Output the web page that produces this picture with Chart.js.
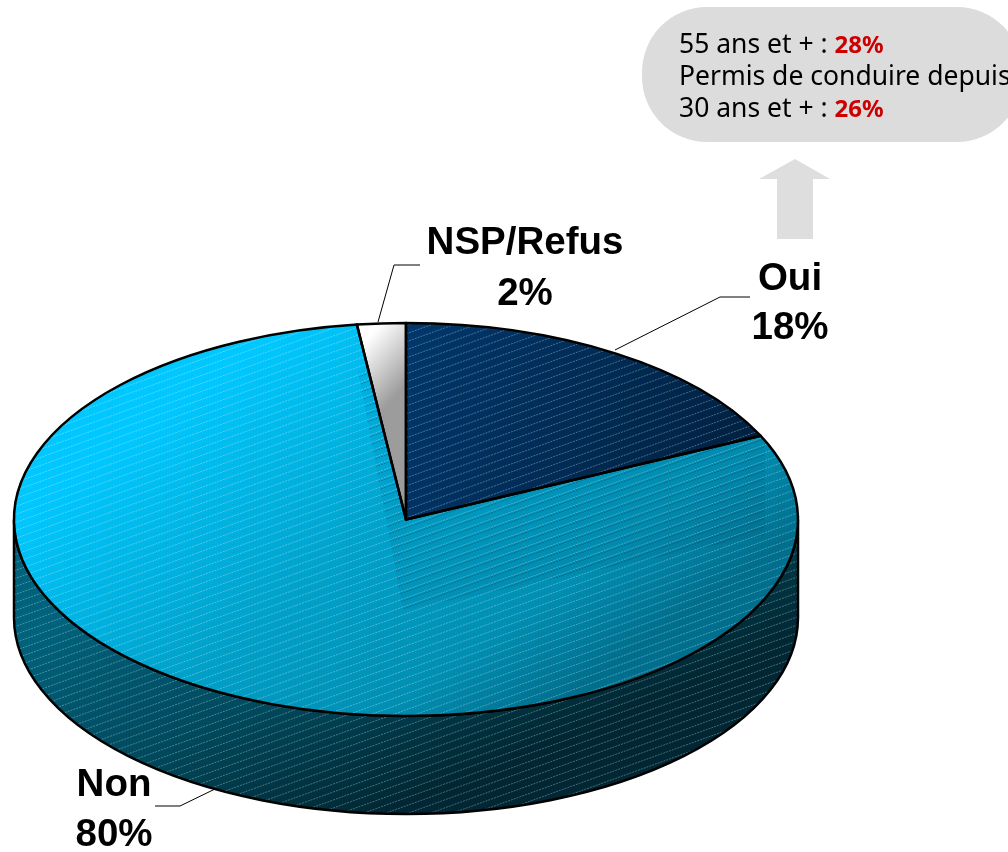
<!DOCTYPE html>
<html lang="fr">
<head>
<meta charset="UTF-8">
<title>Permis de conduire</title>
<script src="https://cdn.jsdelivr.net/npm/chart.js"></script>
<style>
  html, body { margin: 0; padding: 0; background: #fff; overflow: hidden; }
  canvas { display: block; }
</style>
</head>
<body>
<canvas id="pie" width="1008" height="852"></canvas>
<script>
// values
const categories = ['Oui', 'Non', 'NSP/Refus'];
const values = [18, 80, 2];
const noteLines = [
    ['55 ans et + : ', '28%'],
    ['Permis de conduire depuis', ''],
    ['30 ans et + : ', '26%']
];

// the "3D" look: the circle is squashed and a wall added under it
const topY = 519.5, radiusY = 196.5, depth = 98;
const W = 1008, H = 852;

const canvas = document.getElementById('pie');
const ctx = canvas.getContext('2d');

function hatchLines(g, color, shift) {
    g.strokeStyle = color;
    g.lineWidth = 1;
    g.setLineDash([2, 1]);
    for (let b = 0; b < H + W; b += 8) {
        g.beginPath();
        g.moveTo(0, b + shift);
        g.lineTo(W, b + shift - W * 0.36);
        g.stroke();
    }
}

function makeFill(stops, x0, y0, x1, y1, hatch, extra) {
    const c = document.createElement('canvas');
    c.width = W; c.height = H;
    const g = c.getContext('2d');
    const grad = g.createLinearGradient(x0, y0, x1, y1);
    stops.forEach(s => grad.addColorStop(s[0], s[1]));
    g.fillStyle = grad;
    g.fillRect(0, 0, W, H);
    if (hatch) hatchLines(g, 'rgba(255,255,255,0.3)', 0);
    if (extra) extra(g);
    return ctx.createPattern(c, 'no-repeat');
}

const fills = [
    makeFill([[0, '#003669'], [1, '#00203f']], 420, 340, 760, 480, true),
    makeFill([[0, '#00c8ff'], [0.5, '#00a0c8'], [0.8, '#008fb3'], [1, '#006f8e']], 150, 420, 420, 800, true, g => {
        // faint darker shape across the right part of the slice
        g.save();
        g.beginPath();
        g.moveTo(358, 370); g.lineTo(403, 610); g.lineTo(765, 535); g.lineTo(765, 437);
        g.closePath();
        g.clip();
        g.fillStyle = 'rgba(0,60,90,0.05)';
        g.fillRect(0, 0, W, H);
        hatchLines(g, 'rgba(0,40,60,0.3)', 2);
        g.restore();
    }),
    makeFill([[0, '#ffffff'], [1, '#9c9c9c']], 362, 345, 406, 385, false)
];
const wallFill = makeFill([[0, '#00627c'], [0.5, '#004a5e'], [0.8, '#003442'], [1, '#002733']], 300, 520, 420, 800, true);

const pie3d = {
    id: 'pie3d',
    beforeDatasetsDraw(chart) {
        const arc = chart.getDatasetMeta(0).data[0];
        const rx = arc.outerRadius, k = radiusY / rx;
        const m = new DOMMatrix().translate(arc.x, topY).scale(1, k).translate(-arc.x, -arc.y);
        fills.forEach(f => f.setTransform(m.inverse()));

        // wall, only the front half of the ellipse shows
        const c = chart.ctx;
        c.save();
        c.beginPath();
        c.ellipse(arc.x, topY, rx, radiusY, 0, 0, Math.PI);
        c.ellipse(arc.x, topY + depth, rx, radiusY, 0, Math.PI, 0, true);
        c.closePath();
        c.fillStyle = wallFill;
        c.fill();
        c.strokeStyle = '#000';
        c.lineWidth = 2.5;
        c.stroke();
        c.restore();

        c.save();
        c.transform(m.a, m.b, m.c, m.d, m.e, m.f);
    },
    afterDatasetsDraw(chart) {
        const c = chart.ctx;
        c.restore();
        const meta = chart.getDatasetMeta(0);
        c.save();
        c.strokeStyle = '#000';
        c.lineWidth = 2.5;
        c.lineJoin = 'round';
        meta.data.forEach(a => {
            c.beginPath();
            c.moveTo(a.x, topY);
            c.ellipse(a.x, topY, a.outerRadius, radiusY, 0, a.startAngle, a.endAngle);
            c.closePath();
            c.stroke();
        });
        c.restore();
        drawLabels(c);
        drawNote(c);
    }
};

function drawLabels(c) {
    // leader lines and labels
    const leaders = [
        [[615, 350], [720, 297], [750, 297]],
        [[215, 789], [180, 806], [155, 806]],
        [[378, 322], [394, 265], [420, 265]]
    ];
    const textAt = [[790, 279.5, 328.5], [114, 785.5, 835.5], [525, 243.5, 294.5]];
    c.save();
    c.strokeStyle = '#000';
    c.lineWidth = 1;
    leaders.forEach(l => {
        c.beginPath();
        l.forEach((p, i) => i ? c.lineTo(p[0], p[1]) : c.moveTo(p[0], p[1]));
        c.stroke();
    });
    c.fillStyle = '#000';
    c.font = 'bold 38.5px "Liberation Sans"';
    c.textAlign = 'center';
    c.textBaseline = 'middle';
    categories.forEach((name, i) => {
        c.fillText(name, textAt[i][0], textAt[i][1]);
        c.fillText(values[i] + '%', textAt[i][0], textAt[i][2]);
    });
    c.restore();
}

function drawNote(c) {
    c.save();
    c.fillStyle = '#dcdcdc';
    c.beginPath();
    c.roundRect(642, 7, 380, 135, 65);
    c.fill();
    // arrow
    c.fillStyle = '#dedede';
    c.beginPath();
    c.moveTo(795, 159); c.lineTo(830, 179); c.lineTo(813, 179); c.lineTo(813, 239);
    c.lineTo(777, 239); c.lineTo(777, 179); c.lineTo(759, 179);
    c.closePath();
    c.fill();
    c.textBaseline = 'alphabetic';
    noteLines.forEach((line, i) => {
        const y = 53 + i * 32;
        c.font = '26.5px "Noto Sans"';
        c.fillStyle = '#000';
        c.fillText(line[0], 679, y);
        const w = c.measureText(line[0]).width;
        c.font = 'bold 24px "Noto Sans"';
        c.fillStyle = '#cc0000';
        c.fillText(line[1], 679 + w, y);
    });
    c.restore();
}

new Chart(ctx, {
    type: 'pie',
    data: {
        labels: categories,
        datasets: [{ data: values, backgroundColor: fills, borderWidth: 0 }]
    },
    options: {
        responsive: false,
        animation: false,
        rotation: 0,
        layout: { padding: { left: 14, right: 210, top: 0, bottom: 68 } },
        plugins: { legend: { display: false }, tooltip: { enabled: false } }
    },
    plugins: [pie3d]
});
</script>
</body>
</html>
